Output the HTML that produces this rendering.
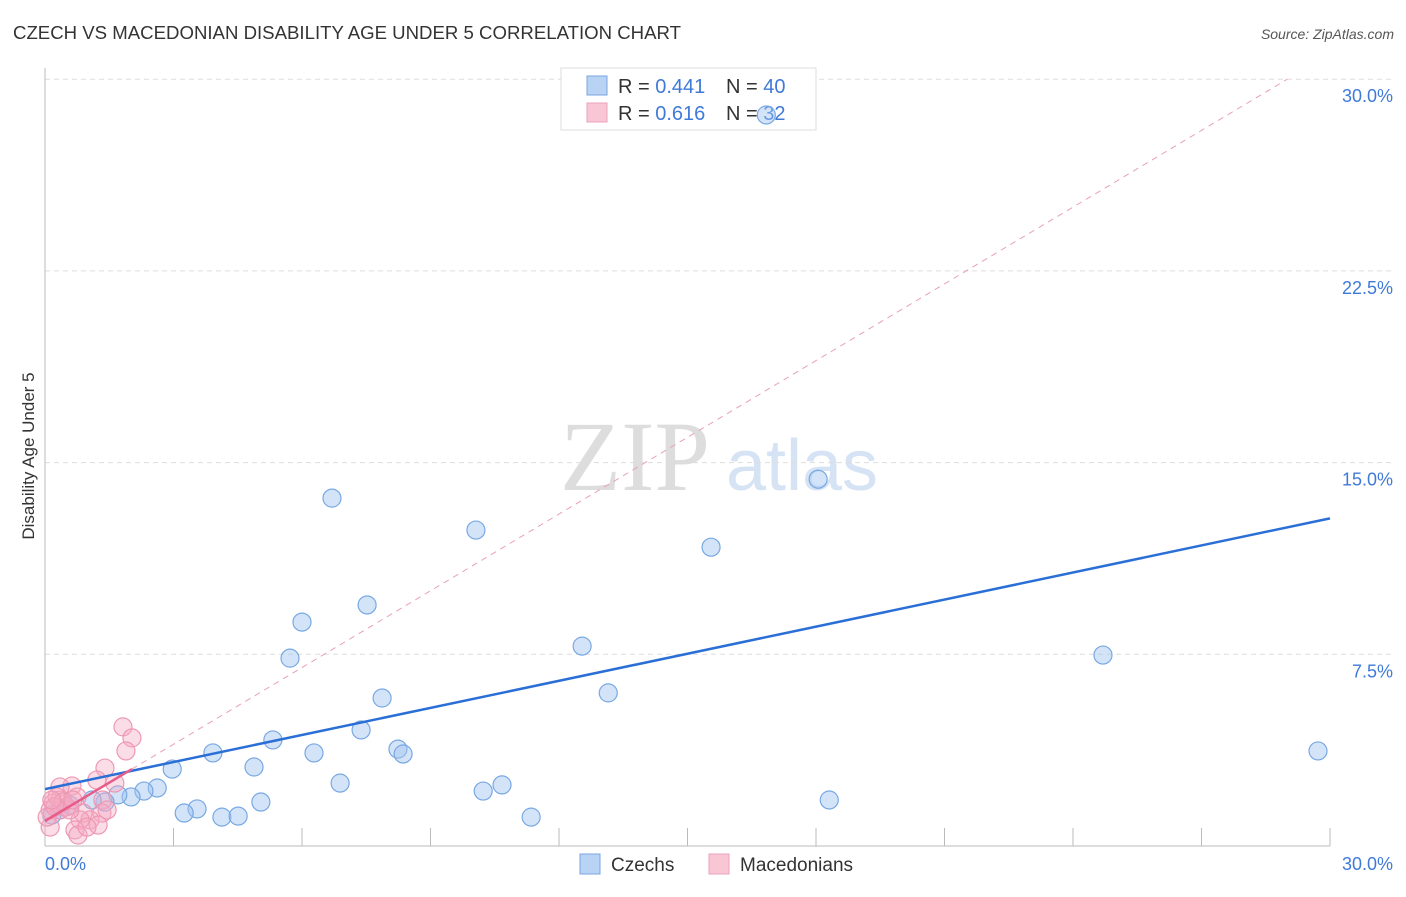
<!DOCTYPE html>
<html><head><meta charset="utf-8"><style>
body{margin:0;background:#fff;font-family:"Liberation Sans",sans-serif}
</style></head><body>
<svg width="1406" height="892" viewBox="0 0 1406 892" xmlns="http://www.w3.org/2000/svg">
<text x="13" y="39" font-size="18" fill="#333" textLength="668" lengthAdjust="spacingAndGlyphs">CZECH VS MACEDONIAN DISABILITY AGE UNDER 5 CORRELATION CHART</text>
<text x="1394" y="39" font-size="14" fill="#555" font-style="italic" text-anchor="end">Source: ZipAtlas.com</text>
<text x="34" y="456" font-size="17" fill="#333" text-anchor="middle" transform="rotate(-90 34 456)">Disability Age Under 5</text>
<g><text x="635" y="490" font-size="100" fill="#ddd" font-family="Liberation Serif,serif" text-anchor="middle">ZIP</text><text x="802" y="490" font-size="72" fill="#d5e3f5" text-anchor="middle">atlas</text></g>
<g id="grid"></g><g id="axes"></g>
<g>
<rect x="561" y="68" width="255" height="62" fill="#fff" stroke="#ddd"/>
<rect x="587" y="76" width="20" height="19" fill="#b9d3f5" stroke="#7ba6e0"/>
<rect x="587" y="103" width="20" height="19" fill="#f9c6d6" stroke="#eba2bb"/>
<text x="618" y="93" font-size="20" fill="#333">R = <tspan fill="#3f7ad8">0.441</tspan><tspan x="726">N = </tspan><tspan fill="#3f7ad8">40</tspan></text>
<text x="618" y="120" font-size="20" fill="#333">R = <tspan fill="#3f7ad8"> 0.616</tspan><tspan x="726">N = </tspan><tspan fill="#3f7ad8">32</tspan></text>
</g>
<g id="marks"></g>
<g>
<rect x="580" y="854" width="20" height="20" fill="#b9d3f5" stroke="#7ba6e0"/><text x="611" y="871" font-size="19" fill="#333">Czechs</text>
<rect x="709" y="854" width="20" height="20" fill="#f9c6d6" stroke="#eba2bb"/><text x="740" y="871" font-size="19" fill="#333">Macedonians</text>
</g>
</svg>
<script>
const yTicks=[7.5,15,22.5,30];
const yTickLabels=["7.5%","15.0%","22.5%","30.0%"];
const xTickVals=[0,3,6,9,12,15,18,21,24,27,30];
const czechX=[16.84,6.70,10.06,18.05,15.55,7.52,6.00,5.72,12.54,24.70,7.87,13.15,7.38,5.32,3.92,6.28,8.24,8.36,29.72,2.97,4.88,6.89,10.67,10.23,2.62,2.31,2.01,1.70,1.40,1.10,5.04,18.31,3.55,3.25,4.13,4.51,11.35,0.35,0.16,0.58];
const czechY=[28.6,13.61,12.36,14.35,11.69,9.43,8.76,7.35,7.82,7.47,5.79,5.99,4.54,4.15,3.64,3.64,3.79,3.60,3.72,3.01,3.09,2.46,2.39,2.15,2.27,2.15,1.92,2.00,1.72,1.80,1.72,1.80,1.45,1.29,1.13,1.17,1.13,1.41,1.21,1.60];
const macX=[1.82,2.03,1.89,1.40,1.21,0.63,0.35,1.63,0.75,1.35,0.35,0.19,0.12,0.51,0.89,1.33,1.05,0.82,1.24,0.70,0.77,0.12,0.35,0.58,0.28,0.42,0.05,0.98,1.45,0.23,0.65,0.16];
const macY=[4.66,4.23,3.72,3.05,2.58,2.35,2.31,2.46,1.92,1.80,1.80,1.68,1.41,1.53,1.29,1.29,1.02,1.02,0.82,0.63,0.43,0.74,1.41,1.41,1.92,1.72,1.13,0.74,1.41,1.53,1.80,1.80];
const NS="http://www.w3.org/2000/svg";
const X=v=>45+v/30*1285, Y=v=>846-v*25.56;
function mk(p,t,a){const e=document.createElementNS(NS,t);for(const k in a)e.setAttribute(k,a[k]);document.getElementById(p).appendChild(e);return e;}
yTicks.forEach((t,i)=>{
 let g=mk('grid','line',{x1:45,x2:1395,y1:Y(t),y2:Y(t),stroke:'#ddd','stroke-dasharray':'5,4'});
 
 
 let l=mk('axes','text',{x:1393,y:Y(t)+23,'font-size':18,fill:'#3f7ad8','text-anchor':'end'});l.textContent=yTickLabels[i];
 
 
});
let ya=mk('axes','line',{x1:45,x2:45,y1:68,y2:846,stroke:'#bbb'});


let xa=mk('axes','line',{x1:45,x2:1330,y1:846,y2:846,stroke:'#bbb'});


xTickVals.slice(1).forEach(t=>{let k=mk('axes','line',{x1:X(t),x2:X(t),y1:828,y2:846,stroke:'#bbb'});
 
 });
let a=mk('axes','text',{x:45,y:870,'font-size':18,fill:'#3f7ad8'});a.textContent='0.0%';


let b=mk('axes','text',{x:1393,y:870,'font-size':18,fill:'#3f7ad8','text-anchor':'end'});b.textContent='30.0%';


function reg(xs,ys){const n=xs.length;let mx=0,my=0;xs.forEach((x,i)=>{mx+=x;my+=ys[i]});mx/=n;my/=n;let sxy=0,sxx=0;xs.forEach((x,i)=>{sxy+=(x-mx)*(ys[i]-my);sxx+=(x-mx)**2});const s=sxy/sxx;return [my-s*mx,s];}
czechX.forEach((x,i)=>{let c=mk('marks','circle',{cx:X(x),cy:Y(czechY[i]),r:9,fill:'rgba(160,196,240,0.45)',stroke:'#78a8e3','stroke-width':1.2});
 
 });
macX.forEach((x,i)=>{let c=mk('marks','circle',{cx:X(x),cy:Y(macY[i]),r:9,fill:'rgba(244,170,195,0.4)',stroke:'#ee98b3','stroke-width':1.2});
 
 });
let [bi,bs]=reg(czechX,czechY);
let bl=mk('marks','line',{x1:X(0),y1:Y(bi),x2:X(30),y2:Y(bi+bs*30),stroke:'#2a6fd6','stroke-width':2.5});


let [pi,ps]=reg(macX,macY);const mxm=Math.max(...macX);const xe=(30-pi)/ps;
let pd=mk('marks','line',{x1:X(mxm),y1:Y(pi+ps*mxm),x2:X(xe),y2:Y(30),stroke:'#e8a0b6','stroke-width':1,'stroke-dasharray':'6,5'});


let pl=mk('marks','line',{x1:X(0),y1:Y(pi),x2:X(mxm),y2:Y(pi+ps*mxm),stroke:'#e85c8a','stroke-width':2.5});


</script>
</body></html>
